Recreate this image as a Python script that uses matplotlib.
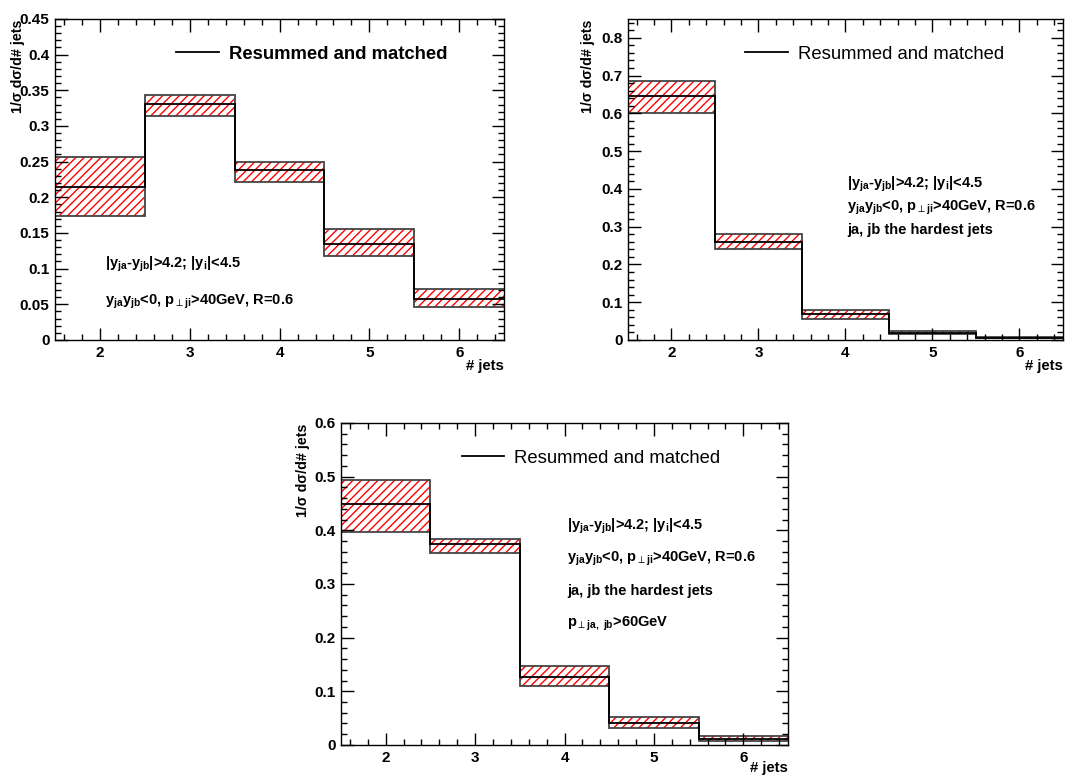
import matplotlib
matplotlib.use('Agg')
import matplotlib.pyplot as plt
import numpy as np
from matplotlib.ticker import MultipleLocator, FuncFormatter

plt.rcParams['font.family'] = ['Liberation Sans', 'DejaVu Sans']
plt.rcParams['mathtext.fontset'] = 'custom'
plt.rcParams['mathtext.rm'] = 'Liberation Sans:bold'
plt.rcParams['mathtext.bf'] = 'Liberation Sans:bold'
plt.rcParams['mathtext.it'] = 'Liberation Sans:bold'
plt.rcParams['mathtext.default'] = 'bf'
plt.rcParams['mathtext.fallback'] = 'cm'
plt.rcParams['hatch.linewidth'] = 1.0

# number of jets (bin centres)
njets = [2, 3, 4, 5, 6]

# panel 1: |y_ja - y_jb| > 4.2
central_1 = [0.215, 0.331, 0.238, 0.134, 0.057]
upper_1 = [0.256, 0.343, 0.250, 0.156, 0.071]
lower_1 = [0.174, 0.314, 0.222, 0.117, 0.046]

# panel 2: ja, jb the hardest jets
central_2 = [0.647, 0.260, 0.068, 0.019, 0.005]
upper_2 = [0.685, 0.280, 0.080, 0.025, 0.007]
lower_2 = [0.602, 0.241, 0.056, 0.015, 0.004]

# panel 3: hardest jets with pT > 60 GeV
central_3 = [0.449, 0.374, 0.126, 0.041, 0.012]
upper_3 = [0.494, 0.383, 0.148, 0.052, 0.016]
lower_3 = [0.397, 0.358, 0.109, 0.031, 0.008]

legend_label = 'Resummed and matched'
ylabel = '1/σ dσ/d# jets'
cut_1 = r'$|y_{ja}$-$y_{jb}|$>4.2; $|y_{i}|$<4.5'
cut_2 = r'$y_{ja}y_{jb}$<0, $p_{\mathrm{\perp}ji}$>40GeV, R=0.6'
cut_3 = 'ja, jb the hardest jets'
cut_4 = r'$p_{\mathrm{\perp}ja,\ jb}$>60GeV'

fig = plt.figure(figsize=(10.72, 7.76), dpi=100)

panels = [
    # axes rect, data, ylim, major, minor, legend bold, texts, ylabel x, xlabel y
    ([0.0513, 0.5619, 0.4190, 0.4137], (central_1, upper_1, lower_1), 0.45, 0.05, 0.01, True,
     [(0.111, 0.226, cut_1), (0.111, 0.111, cut_2)], -0.082, -0.082),
    ([0.5858, 0.5619, 0.4058, 0.4137], (central_2, upper_2, lower_2), 0.85, 0.1, 0.02, False,
     [(0.503, 0.4735, cut_1), (0.503, 0.402, cut_2), (0.503, 0.3315, cut_3)], -0.092, -0.082),
    ([0.3181, 0.0400, 0.4170, 0.4150], (central_3, upper_3, lower_3), 0.6, 0.1, 0.02, False,
     [(0.506, 0.669, cut_1), (0.506, 0.570, cut_2), (0.506, 0.467, cut_3), (0.506, 0.368, cut_4)],
     -0.085, -0.071),
]

edges = np.arange(len(njets) + 1) + njets[0] - 0.5

for rect, (cen, up, lo), ymax, major, minor, bold, texts, ylx, xly in panels:
    ax = fig.add_axes(rect)
    up = np.array(up)
    lo = np.array(lo)
    # hatched uncertainty band
    ax.bar(njets, up - lo, bottom=lo, width=1.0, fill=False, hatch='////',
           edgecolor='red', linewidth=0)
    ax.stairs(up, edges, baseline=None, color='#444444', linewidth=1.3)
    ax.stairs(lo, edges, baseline=None, color='#444444', linewidth=1.3)
    ax.stairs(cen, edges, baseline=None, color='black', linewidth=1.3)

    ax.set_xlim(edges[0], edges[-1])
    ax.set_ylim(0, ymax)
    ax.xaxis.set_major_locator(MultipleLocator(1))
    ax.xaxis.set_minor_locator(MultipleLocator(0.2))
    ax.yaxis.set_major_locator(MultipleLocator(major))
    ax.yaxis.set_minor_locator(MultipleLocator(minor))
    ax.yaxis.set_major_formatter(FuncFormatter(lambda v, p: '%g' % round(v, 3)))
    ax.tick_params(which='both', direction='in', top=True, right=True, width=1)
    ax.tick_params(which='major', length=9, labelsize=11, pad=4)
    ax.tick_params(which='minor', length=4.5)
    for lab in ax.get_xticklabels() + ax.get_yticklabels():
        lab.set_fontweight('bold')
    for s in ax.spines.values():
        s.set_linewidth(1.0)

    ax.plot([], [], color='black', linewidth=1.3, label=legend_label)
    ax.legend(loc='center left', bbox_to_anchor=(0.27, 0.89), frameon=False,
              borderpad=0, borderaxespad=0, handlelength=2.3, handletextpad=0.55,
              prop={'size': 13.3, 'weight': 'bold' if bold else 'normal'})

    for tx, ty, s in texts:
        ax.text(tx, ty, s, transform=ax.transAxes, fontsize=10.5, fontweight='bold',
                ha='left', va='baseline')

    ax.text(ylx, 0.998, ylabel, transform=ax.transAxes, rotation=90, fontsize=10.3,
            fontweight='bold', ha='center', va='top')
    ax.text(1.0, xly, '# jets', transform=ax.transAxes, fontsize=10.7,
            fontweight='bold', ha='right', va='center')

fig.savefig('out.png', dpi=100)
